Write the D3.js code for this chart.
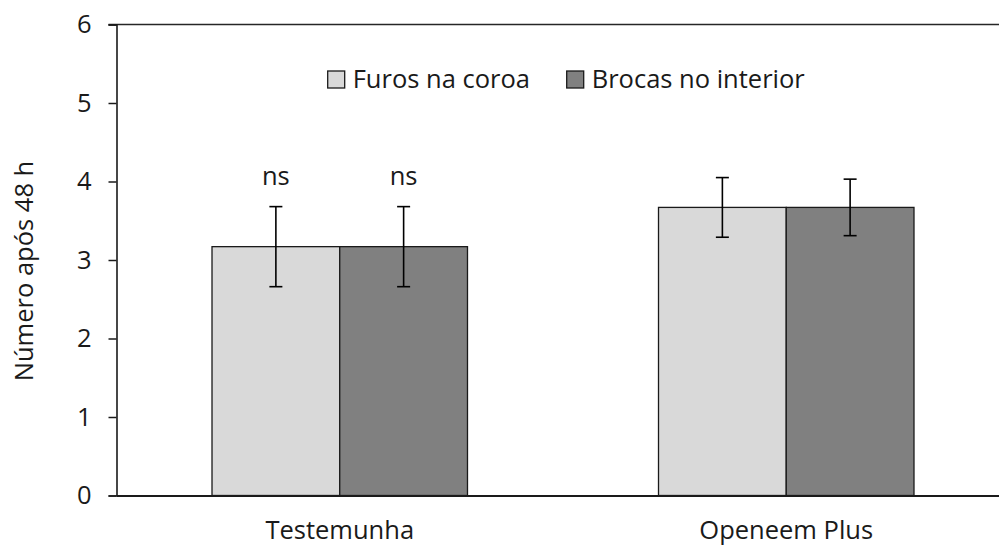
<!DOCTYPE html>
<meta charset="utf-8">
<script src="https://d3js.org/d3.v7.min.js"></script>
<style>
  body { margin: 0; background: #fff; }
  text { font-family: 'Open Sans', sans-serif; fill: #1a1a1a; }
</style>
<body>
<div id="chart"></div>
<script>

// data
var categories = ["Testemunha", "Openeem Plus"];
var series = ["Furos na coroa", "Brocas no interior"];
var colors = ["#d9d9d9", "#808080"];
var furos = [3.17, 3.67];
var brocas = [3.17, 3.67];
var furosErr = [0.51, 0.38];
var brocasErr = [0.51, 0.36];
var sigLabels = [["ns", "ns"], ["", ""]];
var yTicks = [0, 1, 2, 3, 4, 5, 6];

var values = [furos, brocas];
var errors = [furosErr, brocasErr];

var W = 999, H = 546;
var margin = {top: 24.5, left: 116.5};
var plotW = 893, plotH = 471;
var fs = "25.5px";

var svg = d3.select("#chart").append("svg")
    .attr("width", W)
    .attr("height", H);

var g = svg.append("g")
    .attr("transform", "translate(" + margin.left + "," + margin.top + ")");

var x = d3.scaleBand()
  .domain(categories)
  .range([0, plotW])
  .paddingInner(0.4278)
  .paddingOuter(0.2139);

var x1 = d3.scaleBand()
  .domain(d3.range(series.length))
  .range([0, x.bandwidth()]);

var y = d3.scaleLinear()
  .domain([0, 6])
  .range([plotH, 0]);

// top border line
g.append("line")
  .attr("x1", -8).attr("x2", plotW)
  .attr("y1", 0).attr("y2", 0)
  .attr("stroke", "#262626").attr("stroke-width", 1.5);

// bars
series.forEach(function(s, si) {
  g.selectAll(".bar" + si)
    .data(categories)
    .enter().append("rect")
      .attr("x", function(d) { return x(d) + x1(si); })
      .attr("y", function(d, i) { return y(values[si][i]); })
      .attr("width", x1.bandwidth())
      .attr("height", function(d, i) { return plotH - y(values[si][i]); })
      .attr("fill", colors[si])
      .attr("stroke", "#1a1a1a")
      .attr("stroke-width", 1.3);
});

// error bars
series.forEach(function(s, si) {
  categories.forEach(function(c, i) {
    var cx = x(c) + x1(si) + x1.bandwidth() / 2;
    var hi = y(values[si][i] + errors[si][i]);
    var lo = y(values[si][i] - errors[si][i]);
    var eb = g.append("g").attr("stroke", "#000").attr("stroke-width", 1.6);
    eb.append("line").attr("x1", cx).attr("x2", cx).attr("y1", hi).attr("y2", lo);
    eb.append("line").attr("x1", cx - 6.5).attr("x2", cx + 6.5).attr("y1", hi).attr("y2", hi);
    eb.append("line").attr("x1", cx - 6.5).attr("x2", cx + 6.5).attr("y1", lo).attr("y2", lo);
    if (sigLabels[i][si]) {
      g.append("text")
        .attr("x", cx)
        .attr("y", 185 - margin.top)
        .attr("text-anchor", "middle")
        .style("font-size", fs)
        .text(sigLabels[i][si]);
    }
  });
});

// Y axis
var yAxis = g.append("g")
  .call(d3.axisLeft(y).tickValues(yTicks).tickSize(8).tickPadding(17).tickFormat(d3.format("d")));
yAxis.select(".domain").attr("stroke", "#1a1a1a").attr("stroke-width", 1.6);
yAxis.selectAll(".tick line").attr("stroke", "#1a1a1a").attr("stroke-width", 1.5);
yAxis.selectAll(".tick text")
  .style("font-size", fs)
  .style("font-family", "'Open Sans', sans-serif")
  .attr("fill", "#1a1a1a");

// X axis
var xAxis = g.append("g")
  .attr("transform", "translate(0," + plotH + ")")
  .call(d3.axisBottom(x).tickSize(0).tickPadding(0));
xAxis.select(".domain").attr("stroke", "#1a1a1a").attr("stroke-width", 2.2);
xAxis.selectAll(".tick text")
  .attr("y", 539 - margin.top - plotH)
  .attr("dy", null)
  .style("font-size", fs)
  .style("font-family", "'Open Sans', sans-serif")
  .attr("fill", "#1a1a1a");

// Y axis label
svg.append("text")
  .attr("transform", "translate(33," + 271 + ") rotate(-90)")
  .attr("text-anchor", "middle")
  .style("font-size", fs)
  .text("Número após 48 h");

// legend
var legX = [327.7, 566.7];
series.forEach(function(s, si) {
  svg.append("rect")
    .attr("x", legX[si]).attr("y", 71)
    .attr("width", 17).attr("height", 17)
    .attr("fill", colors[si])
    .attr("stroke", "#1a1a1a").attr("stroke-width", 1.3);
  svg.append("text")
    .attr("x", legX[si] + 25).attr("y", 88)
    .style("font-size", fs)
    .text(s);
});

</script>
</body>
